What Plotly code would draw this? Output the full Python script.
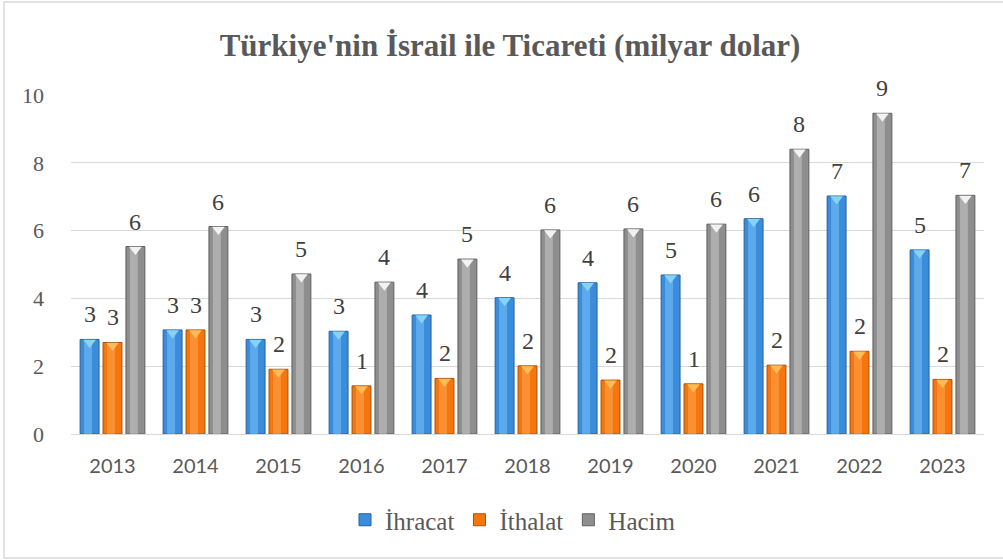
import plotly.graph_objects as go

years = [2013, 2014, 2015, 2016, 2017, 2018, 2019, 2020, 2021, 2022, 2023]
ihracat = [2.79, 3.07, 2.79, 3.03, 3.51, 4.02, 4.46, 4.69, 6.35, 7.02, 5.43]
ithalat = [2.70, 3.07, 1.91, 1.42, 1.64, 2.01, 1.59, 1.48, 2.03, 2.44, 1.61]
hacim = [5.53, 6.12, 4.72, 4.48, 5.16, 6.02, 6.05, 6.19, 8.40, 9.46, 7.04]

names = ["İhracat", "İthalat", "Hacim"]
series = [ihracat, ithalat, hacim]
fills = ["#3b8ddb", "#f5760e", "#8e8e8e"]
edges = ["#27609c", "#a94f08", "#5f5f5f"]
highlights = ["rgba(120,195,248,0.55)", "rgba(255,165,80,0.55)", "rgba(200,200,200,0.55)"]
tops = ["#86d3f6", "#ffbb55", "#f2f2f2"]

SERIF = "Liberation Serif"
BAR_W = 0.228
SLOT = 0.276
offsets = [-SLOT, 0.0, SLOT]

fig = go.Figure()

for name, vals, fc, ec, hc, tc, off in zip(names, series, fills, edges, highlights, tops, offsets):
    xs = [y + off for y in years]
    fig.add_trace(go.Bar(
        x=xs, y=vals, name=name, width=BAR_W,
        marker=dict(color=fc, line=dict(color=ec, width=1)),
        hoverinfo="skip",
    ))
    fig.add_trace(go.Bar(
        x=[x - BAR_W * 0.08 for x in xs], y=[v - 0.02 for v in vals], width=BAR_W * 0.42,
        marker=dict(color=hc, line=dict(width=0)), showlegend=False, hoverinfo="skip",
    ))
    fig.add_trace(go.Scatter(
        x=xs, y=[v - 0.09 for v in vals], mode="markers",
        marker=dict(symbol="triangle-down", size=11, color=tc, line=dict(width=0)),
        showlegend=False, hoverinfo="skip",
    ))
    for x, v in zip(xs, vals):
        fig.add_annotation(
            x=x, y=v, text=f"{v:.0f}", showarrow=False, yanchor="middle", yshift=25,
            font=dict(family=SERIF, size=24, color="#404040"),
        )

fig.update_layout(
    width=1003, height=560,
    margin=dict(l=71, r=19, t=95, b=126),
    paper_bgcolor="white", plot_bgcolor="white",
    barmode="overlay",
    title=dict(
        text="<b>Türkiye'nin İsrail ile Ticareti (milyar dolar)</b>",
        x=0.5085, xanchor="center", y=1 - 45 / 560, yanchor="middle", yref="container",
        font=dict(family=SERIF, size=31, color="#595959"),
    ),
    xaxis=dict(
        range=[2012.5, 2023.5], tickmode="array", tickvals=years,
        ticktext=[str(y) for y in years], showgrid=False, zeroline=False,
        showline=True, linecolor="#d9d9d9", linewidth=1, ticks="",
        ticklabelstandoff=14,
        tickfont=dict(family="Lato", size=20, color="#595959"),
    ),
    yaxis=dict(
        range=[0, 10], dtick=2, tick0=0, showgrid=True, gridcolor="#d9d9d9",
        gridwidth=1, zeroline=False, showline=False, ticks="",
        ticklabelstandoff=26,
        tickfont=dict(family=SERIF, size=22, color="#595959"),
    ),
    legend=dict(
        orientation="h", x=513 / 1003, xanchor="center", xref="container",
        y=1 - 520 / 560, yanchor="middle", yref="container",
        font=dict(family=SERIF, size=25, color="#595959"),
        itemwidth=30, tracegroupgap=0,
    ),
    showlegend=True,
)

fig.add_shape(
    type="rect", xref="paper", yref="paper",
    x0=(4 - 71) / 913, x1=(1010 - 71) / 913,
    y0=(434 - 558) / 339, y1=(434 - 2) / 339,
    line=dict(color="#d9d9d9", width=1.5), fillcolor="rgba(0,0,0,0)", layer="below",
)

fig.write_html(
    "out.html",
    config={"displayModeBar": False},
    post_script="document.body.style.margin='0';document.body.style.overflow='hidden';",
)
